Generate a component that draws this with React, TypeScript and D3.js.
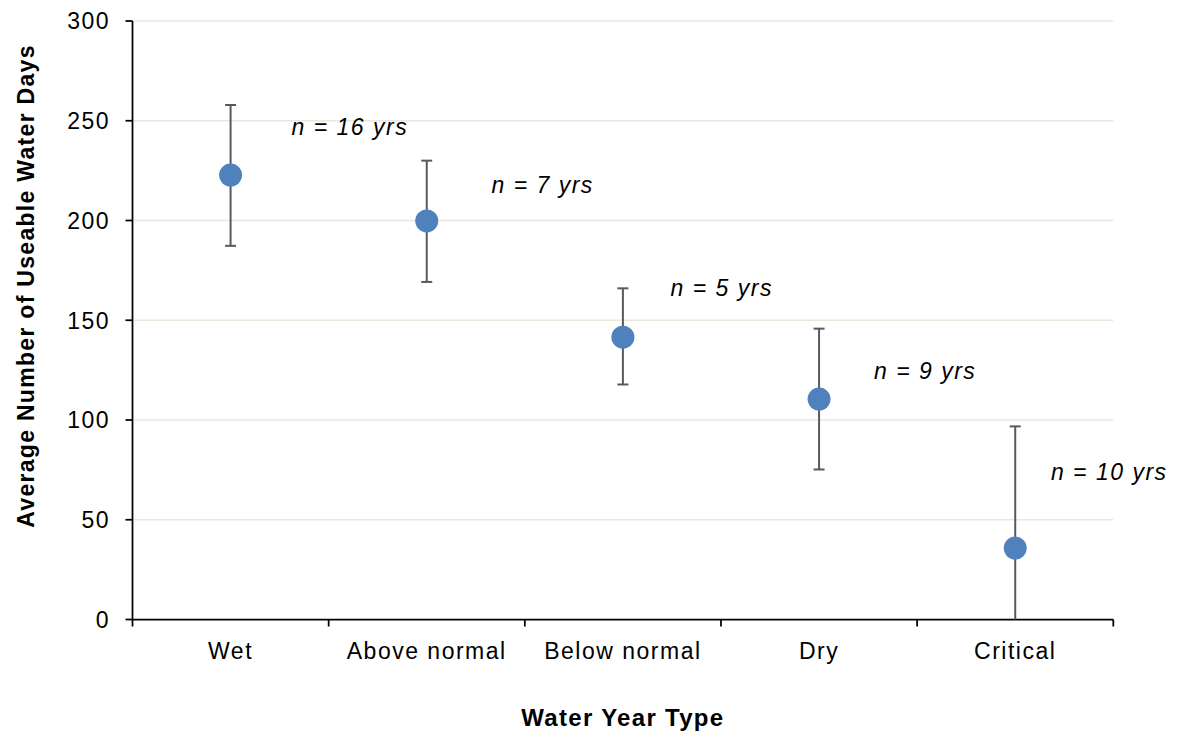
import React from "react";
import * as d3 from "d3";

// Water year types and summary stats (days)
const categories = ["Wet", "Above normal", "Below normal", "Dry", "Critical"];
const means = [222.8, 199.8, 141.5, 110.5, 35.8];
const upper = [257.9, 230.0, 166.0, 145.8, 96.8];
const lower = [187.3, 169.2, 117.8, 75.2, 0];
const nLabels = ["n = 16 yrs", "n = 7 yrs", "n = 5 yrs", "n = 9 yrs", "n = 10 yrs"];
// where each n-label sits: value (days) at its baseline, and shift as fraction of a band
const labelValues = [242.9, 213.9, 162.2, 120.5, 70];
const labelShift = [0.311, 0.33, 0.243, 0.28, 0.182];
const yTicks = [0, 50, 100, 150, 200, 250, 300];

const W = 1181;
const H = 738;
const font = "'Liberation Sans', Arial, Helvetica, sans-serif";

export default function App() {
  const left = 132.5;
  const right = 1113.3;
  const top = 21;
  const bottom = 619.5;

  const x = d3.scaleBand<string>().domain(categories).range([left, right]).padding(0);
  const y = d3.scaleLinear().domain([0, 300]).range([bottom, top]);
  const bw = x.bandwidth();
  const cx = (c: string) => (x(c) as number) + bw / 2;

  const xTickPos = categories.map((c) => x(c) as number).concat([right]);

  return (
    <svg
      width={W}
      height={H}
      style={{ position: "absolute", left: 0, top: 0, background: "#fff" }}
    >
      {/* gridlines */}
      {yTicks.filter((t) => t > 0).map((t) => (
        <line key={"g" + t} x1={left} x2={right} y1={y(t)} y2={y(t)} stroke="#EAE8DC" strokeWidth={1.5} />
      ))}

      {/* y axis */}
      <line x1={left} x2={left} y1={top} y2={bottom} stroke="#000" strokeWidth={1.75} />
      {yTicks.map((t) => (
        <g key={"y" + t}>
          <line x1={left - 7} x2={left} y1={y(t)} y2={y(t)} stroke="#000" strokeWidth={1.75} />
          <text
            x={110}
            y={y(t)}
            dy="0.36em"
            textAnchor="end"
            fontFamily={font}
            fontSize={23}
            letterSpacing={1.5}
            fill="#000"
          >
            {t}
          </text>
        </g>
      ))}

      {/* x axis */}
      <line x1={left} x2={right} y1={bottom} y2={bottom} stroke="#000" strokeWidth={1.75} />
      {xTickPos.map((p, i) => (
        <line key={"xt" + i} x1={p} x2={p} y1={bottom} y2={bottom + 7} stroke="#000" strokeWidth={1.75} />
      ))}
      {categories.map((c) => (
        <text
          key={"xl" + c}
          x={cx(c)}
          y={659}
          textAnchor="middle"
          fontFamily={font}
          fontSize={23}
          letterSpacing={1.5}
          fill="#000"
        >
          {c}
        </text>
      ))}

      {/* error bars */}
      {categories.map((c, i) => (
        <g key={"e" + c} stroke="#595959" strokeWidth={2}>
          <line x1={cx(c)} x2={cx(c)} y1={y(upper[i])} y2={y(lower[i])} />
          <line x1={cx(c) - 5.5} x2={cx(c) + 5.5} y1={y(upper[i])} y2={y(upper[i])} />
          {lower[i] > 0 && (
            <line x1={cx(c) - 5.5} x2={cx(c) + 5.5} y1={y(lower[i])} y2={y(lower[i])} />
          )}
        </g>
      ))}

      {/* means */}
      {categories.map((c, i) => (
        <circle key={"p" + c} cx={cx(c)} cy={y(means[i])} r={11.5} fill="#4F81BD" />
      ))}

      {/* n labels */}
      {categories.map((c, i) => (
        <text
          key={"n" + c}
          x={cx(c) + labelShift[i] * bw}
          y={y(labelValues[i])}
          fontFamily={font}
          fontSize={23}
          fontStyle="italic"
          letterSpacing={1.5}
          fill="#000"
        >
          {nLabels[i]}
        </text>
      ))}

      {/* axis titles */}
      <text
        x={(left + right) / 2}
        y={726}
        textAnchor="middle"
        fontFamily={font}
        fontSize={24}
        fontWeight="bold"
        letterSpacing={1.3}
        fill="#000"
      >
        Water Year Type
      </text>
      <text
        transform={`translate(34,286) rotate(-90)`}
        textAnchor="middle"
        fontFamily={font}
        fontSize={23}
        fontWeight="bold"
        letterSpacing={1.3}
        fill="#000"
      >
        Average Number of Useable Water Days
      </text>
    </svg>
  );
}
